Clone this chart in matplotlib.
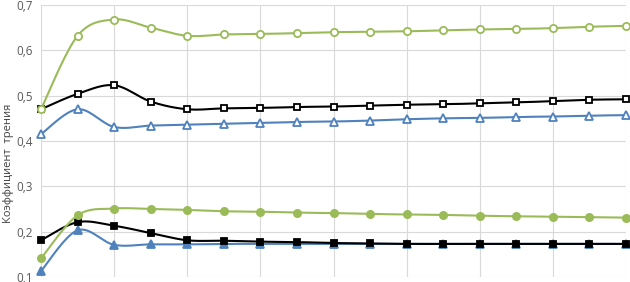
import numpy as np
import matplotlib
matplotlib.use('Agg')
import matplotlib.pyplot as plt

plt.rcParams['font.family'] = ['Open Sans', 'DejaVu Sans']

# номера точек измерения (подписи оси X на исходнике обрезаны)
x = list(range(17))

# верхняя группа (полые маркеры)
green_top = [0.470, 0.632, 0.668, 0.650, 0.632, 0.635, 0.636, 0.638, 0.640,
             0.641, 0.642, 0.644, 0.646, 0.647, 0.649, 0.652, 0.654]
black_top = [0.470, 0.504, 0.523, 0.487, 0.470, 0.472, 0.473, 0.475, 0.476,
             0.478, 0.480, 0.481, 0.483, 0.485, 0.488, 0.491, 0.492]
blue_top = [0.415, 0.470, 0.431, 0.434, 0.436, 0.438, 0.440, 0.442, 0.443,
            0.445, 0.448, 0.450, 0.451, 0.453, 0.454, 0.456, 0.457]

# нижняя группа (заполненные маркеры)
green_bot = [0.141, 0.236, 0.251, 0.250, 0.248, 0.245, 0.244, 0.242, 0.241,
             0.239, 0.238, 0.237, 0.235, 0.234, 0.233, 0.232, 0.231]
black_bot = [0.181, 0.221, 0.213, 0.197, 0.181, 0.180, 0.178, 0.177, 0.175,
             0.174, 0.173, 0.173, 0.173, 0.173, 0.173, 0.173, 0.173]
blue_bot = [0.113, 0.203, 0.171, 0.172, 0.172, 0.173, 0.173, 0.173, 0.173,
            0.173, 0.173, 0.173, 0.173, 0.173, 0.173, 0.173, 0.173]

GREEN = '#9bbb59'
BLUE = '#4f81bd'
BLACK = '#000000'


def smooth(xs, ys, n=20):
    # сглаживание линии как в Excel (Catmull-Rom)
    xs = np.asarray(xs, float)
    ys = np.asarray(ys, float)
    px = np.concatenate([[xs[0]], xs, [xs[-1]]])
    py = np.concatenate([[ys[0]], ys, [ys[-1]]])
    ox, oy = [], []
    t = np.linspace(0, 1, n)
    for i in range(1, len(px) - 2):
        p0x, p1x, p2x, p3x = px[i - 1:i + 3]
        p0y, p1y, p2y, p3y = py[i - 1:i + 3]
        c1x, c1y = p1x + (p2x - p0x) / 6, p1y + (p2y - p0y) / 6
        c2x, c2y = p2x - (p3x - p1x) / 6, p2y - (p3y - p1y) / 6
        bx = (1 - t) ** 3 * p1x + 3 * (1 - t) ** 2 * t * c1x + 3 * (1 - t) * t ** 2 * c2x + t ** 3 * p2x
        by = (1 - t) ** 3 * p1y + 3 * (1 - t) ** 2 * t * c1y + 3 * (1 - t) * t ** 2 * c2y + t ** 3 * p2y
        ox.extend(bx)
        oy.extend(by)
    return ox, oy


fig = plt.figure(figsize=(6.3, 2.82), dpi=100)
ax = fig.add_axes([41 / 630, 1 - 277 / 282, 585 / 630, 272 / 282])

series = [
    (green_top, GREEN, 'o', 'white'),
    (black_top, BLACK, 's', 'white'),
    (blue_top, BLUE, '^', 'white'),
    (green_bot, GREEN, 'o', GREEN),
    (black_bot, BLACK, 's', BLACK),
    (blue_bot, BLUE, '^', BLUE),
]
order = [2, 1, 0, 5, 4, 3]
sizes = {'o': 5.2, 's': 5.0, '^': 5.2}
for k, (ys, col, mk, face) in enumerate(series):
    sx, sy = smooth(x, ys)
    ax.plot(sx, sy, color=col, lw=1.5, zorder=3 + order[k], clip_on=False)
    ax.plot(x, ys, ls='none', marker=mk, ms=sizes[mk],
            mfc=face, mec=col, mew=1.3, zorder=3 + order[k], clip_on=False)

ax.set_xlim(0, 16)
ax.set_ylim(0.1, 0.7)
ax.set_xticks(range(0, 17, 2))
ax.set_xticklabels([])
ax.set_yticks(np.arange(0.1, 0.71, 0.1))
ax.set_yticklabels(['0,1', '0,2', '0,3', '0,4', '0,5', '0,6', '0,7'])
ax.tick_params(length=0, labelsize=8.5, labelcolor='#595959', pad=6)
ax.grid(True, color='#d9d9d9', lw=0.8)
ax.set_axisbelow(True)
for s in ax.spines.values():
    s.set_visible(False)
ax.set_ylabel('Коэффициент  трения', fontsize=8, color='#404040')
ax.yaxis.set_label_coords(-27 / 585, (277 - 163) / 272)

plt.savefig('out.png', dpi=100)
